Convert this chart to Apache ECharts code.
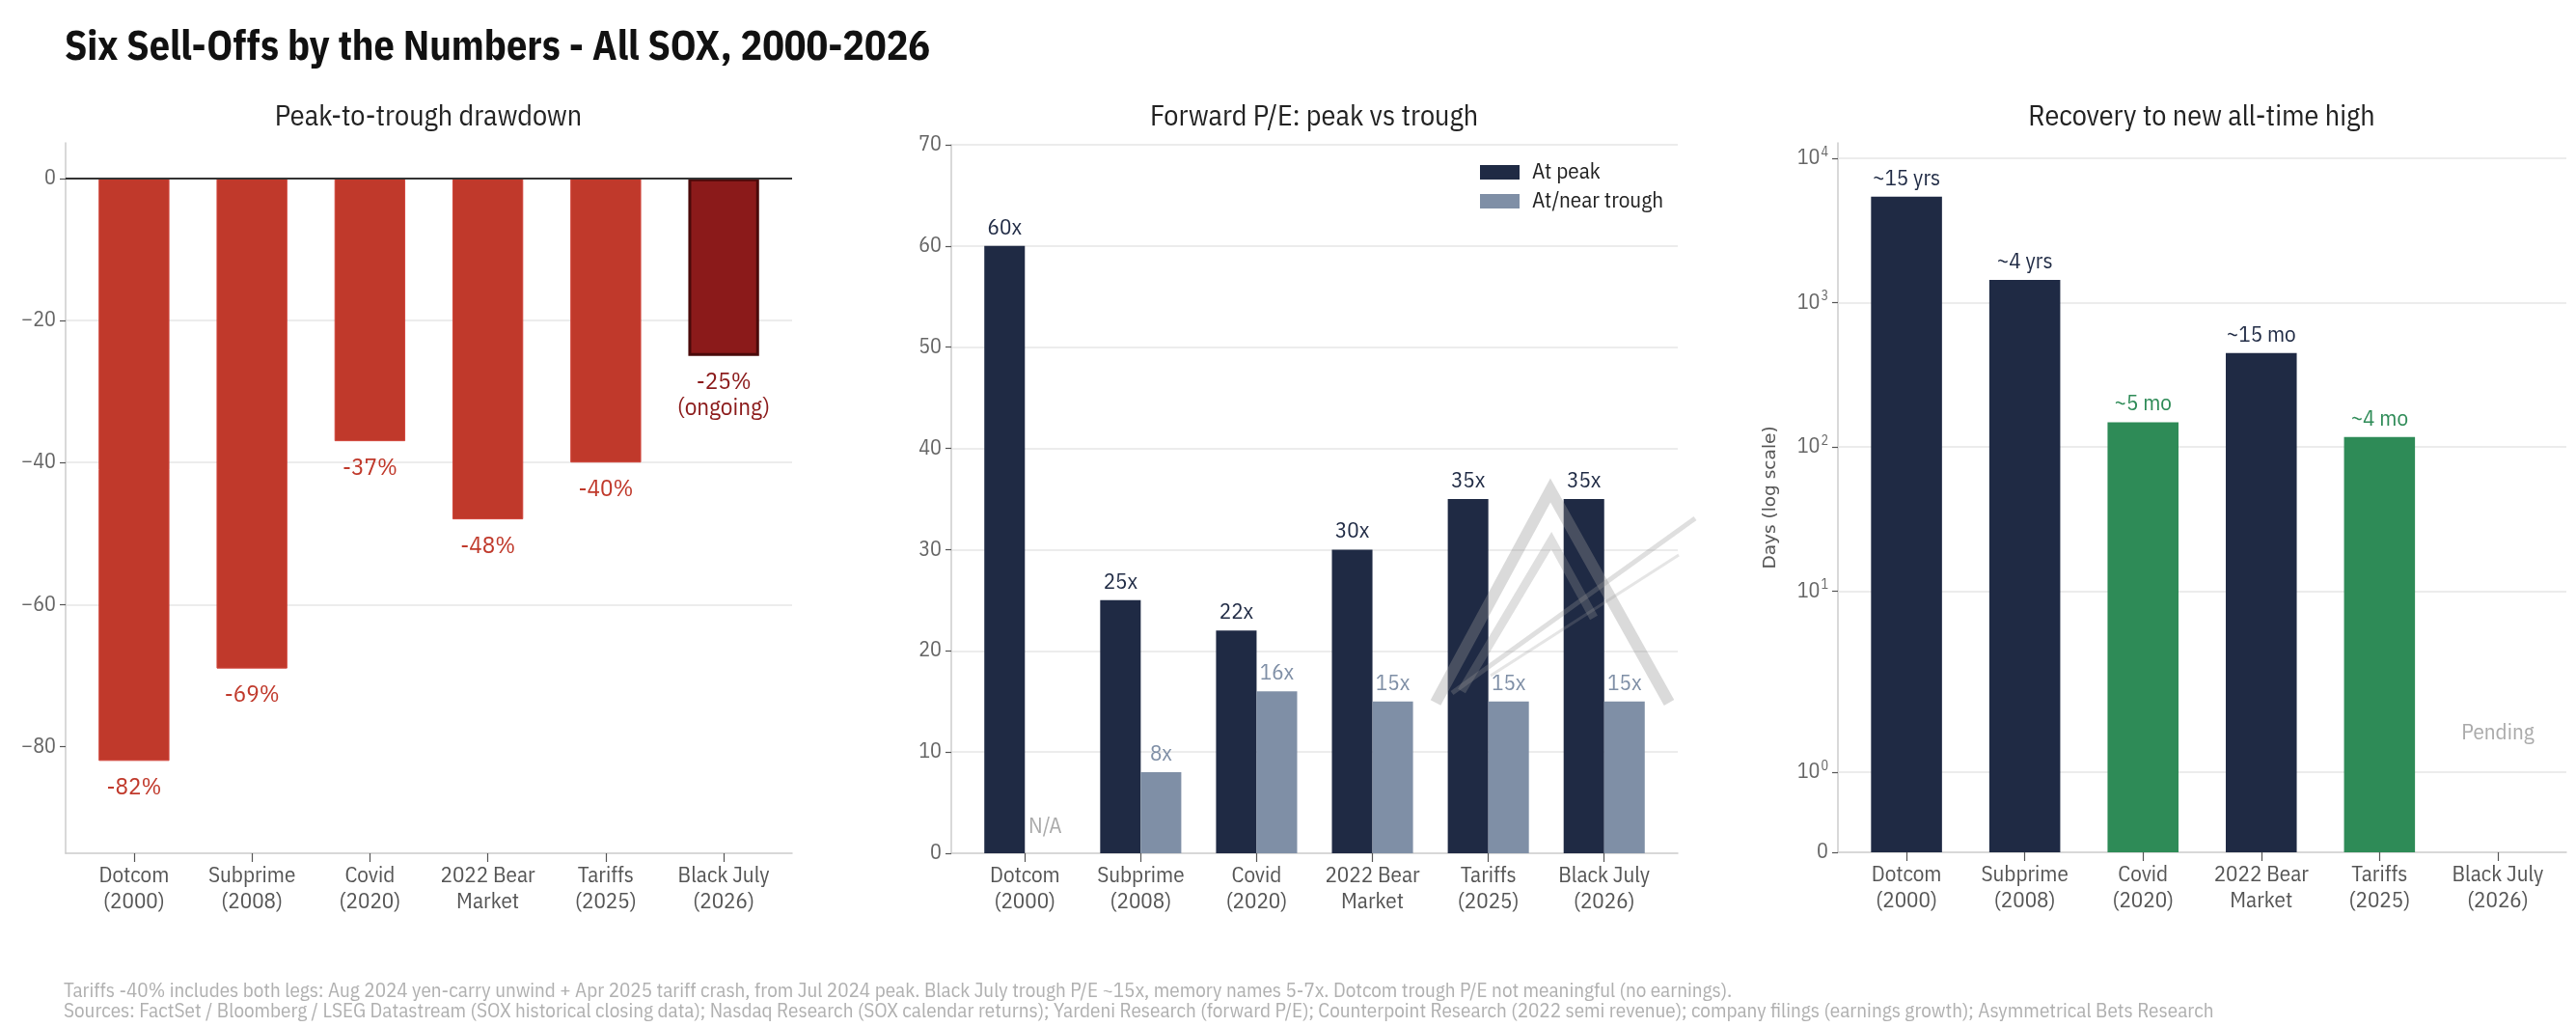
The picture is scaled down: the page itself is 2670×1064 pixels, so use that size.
<!DOCTYPE html>
<html>
<head>
  <meta charset="utf-8">
  <title>Six Sell-Offs by the Numbers</title>
  <script src="https://cdn.jsdelivr.net/npm/echarts@6/dist/echarts.min.js"></script>
  <style>
    html, body { margin: 0; padding: 0; background: #fff; }
    #main { width: 2670px; height: 1064px; }
  </style>
</head>
<body>
<div id="main"></div>

<script type="text/javascript">
// ---- data ----
var categories = ['Dotcom\n(2000)', 'Subprime\n(2008)', 'Covid\n(2020)', '2022 Bear\nMarket', 'Tariffs\n(2025)', 'Black July\n(2026)'];
var drawdown = [-82, -69, -37, -48, -40, -25];
var ongoing = [false, false, false, false, false, true];
var drawdownTicks = [0, -20, -40, -60, -80];

var pePeak = [60, 25, 22, 30, 35, 35];
var peTrough = [null, 8, 16, 15, 15, 15];

var recoveryDays = [5400, 1435, 148, 447, 117, null];
var recoveryText = ['~15 yrs', '~4 yrs', '~5 mo', '~15 mo', '~4 mo', 'Pending'];
var logTicks = [0, 1, 10, 100, 1000, 10000];

var FONT = "'IBM Plex Sans Condensed','Liberation Sans Narrow','Roboto Condensed',Roboto,sans-serif";
var RED = '#C0392B', DARKRED = '#8B1A1A', NAVY = '#1F2A44', SLATE = '#7F8FA6', GREEN = '#2E8B57';

// matplotlib symlog (linthresh 2, linscale 1), in decades
var LINTHRESH = 2, LINADJ = 1 / (1 - 1 / 10);
function symlog(d) {
  return d <= LINTHRESH ? d * LINADJ / LINTHRESH : LINADJ + Math.log10(d / LINTHRESH);
}
var idx = [0, 1, 2, 3, 4, 5];

function xAxisFor(grid, min, max) {
  return {
    type: 'value', gridIndex: grid, min: min, max: max,
    axisLine: { show: true, onZero: false, lineStyle: { color: '#cccccc', width: 1.5 } },
    axisTick: { show: true, customValues: idx, length: 9, lineStyle: { color: '#555', width: 1.2 } },
    axisLabel: {
      customValues: idx, margin: 10, color: '#555', fontSize: 23, lineHeight: 27, fontFamily: FONT,
      formatter: function (v) { return categories[Math.round(v)]; }
    },
    splitLine: { show: false }
  };
}
function yBase(grid) {
  return {
    gridIndex: grid,
    axisLine: { show: true, onZero: false, lineStyle: { color: '#cccccc', width: 1.5 } },
    axisTick: { show: true, length: 6, lineStyle: { color: '#555', width: 1.2 } },
    axisLabel: { color: '#666', fontSize: 22, fontFamily: FONT, margin: 10 },
    splitLine: { show: true, lineStyle: { color: '#e6e6e6', width: 1.5 } }
  };
}

var myChart = echarts.init(document.getElementById('main'));

var y0 = yBase(0);
y0.type = 'value'; y0.min = -95; y0.max = 5;
y0.axisTick.customValues = drawdownTicks;
y0.axisLabel.customValues = drawdownTicks;
y0.axisLabel.formatter = function (v) { return v < 0 ? '\u2212' + Math.abs(v) : String(v); };
y0.splitLine.showMinLine = false; y0.splitLine.showMaxLine = false;

var y1 = yBase(1);
y1.type = 'value'; y1.min = 0; y1.max = 70; y1.interval = 10;
y1.splitLine.showMinLine = false;

var logPos = logTicks.map(symlog);
var y2 = yBase(2);
y2.type = 'value'; y2.min = 0; y2.max = 4.916;
y2.splitLine = { show: false };
y2.axisTick.customValues = logPos;
y2.axisLabel.customValues = logPos;
y2.axisLabel.formatter = function (v) {
  var best = 0;
  logPos.forEach(function (p, i) { if (Math.abs(p - v) < Math.abs(logPos[best] - v)) best = i; });
  if (logTicks[best] === 0) return '{b|0}';
  return '{b|10}{s|' + Math.round(Math.log10(logTicks[best])) + '}';
};
y2.axisLabel.rich = {
  b: { fontSize: 22, color: '#666', fontFamily: FONT, lineHeight: 26 },
  s: { fontSize: 14, color: '#666', fontFamily: FONT, verticalAlign: 'top', lineHeight: 14, padding: [0, 0, 8, 1] }
};
y2.name = 'Days (log scale)';
y2.nameLocation = 'middle';
y2.nameGap = 60;
y2.nameTextStyle = { fontFamily: 'DejaVu Sans', fontSize: 18.5, color: '#555' };

var option = {
  backgroundColor: '#ffffff',
  animation: false,
  textStyle: { fontFamily: FONT },
  title: {
    text: 'Six Sell-Offs by the Numbers - All SOX, 2000-2026',
    left: 62, top: 24,
    textStyle: { fontSize: 42, fontWeight: 'bold', color: '#111', fontFamily: FONT }
  },
  legend: {
    data: ['At peak', 'At/near trough'],
    orient: 'vertical', left: 1529, top: 162,
    itemWidth: 41, itemHeight: 15, itemGap: 7,
    icon: 'rect',
    textStyle: { fontSize: 23, color: '#222', fontFamily: FONT, padding: [0, 0, 0, 8] }
  },
  grid: [
    { left: 68, top: 148, width: 753, height: 736 },
    { left: 986, top: 150, width: 753, height: 734 },
    { left: 1905, top: 148, width: 755, height: 735 }
  ],
  xAxis: [xAxisFor(0, -0.58, 5.58), xAxisFor(1, -0.635, 5.635), xAxisFor(2, -0.58, 5.58)],
  yAxis: [y0, y1, y2],
  graphic: [
    { type: 'text', x: 444, y: 122, style: { text: 'Peak-to-trough drawdown', font: '30px ' + FONT, fill: '#222', textAlign: 'center', textVerticalAlign: 'middle' } },
    { type: 'text', x: 1362, y: 122, style: { text: 'Forward P/E: peak vs trough', font: '30px ' + FONT, fill: '#222', textAlign: 'center', textVerticalAlign: 'middle' } },
    { type: 'text', x: 2282, y: 122, style: { text: 'Recovery to new all-time high', font: '30px ' + FONT, fill: '#222', textAlign: 'center', textVerticalAlign: 'middle' } },
    { type: 'text', x: 66, y: 1027, style: { text: 'Tariffs -40% includes both legs: Aug 2024 yen-carry unwind + Apr 2025 tariff crash, from Jul 2024 peak. Black July trough P/E ~15x, memory names 5-7x. Dotcom trough P/E not meaningful (no earnings).', font: '21px ' + FONT, fill: '#b0b0b0', textVerticalAlign: 'middle' } },
    { type: 'text', x: 66, y: 1048, style: { text: 'Sources: FactSet / Bloomberg / LSEG Datastream (SOX historical closing data); Nasdaq Research (SOX calendar returns); Yardeni Research (forward P/E); Counterpoint Research (2022 semi revenue); company filings (earnings growth); Asymmetrical Bets Research', font: '21px ' + FONT, fill: '#b0b0b0', textVerticalAlign: 'middle' } },
    // faint logo watermark
    { type: 'polyline', z: 100, shape: { points: [[1488, 728], [1607, 508], [1730, 728]] }, style: { stroke: 'rgba(150,150,150,0.35)', lineWidth: 12, fill: null, lineJoin: 'miter' } },
    { type: 'polyline', z: 100, shape: { points: [[1515, 716], [1608, 560], [1652, 640]] }, style: { stroke: 'rgba(150,150,150,0.3)', lineWidth: 9, fill: null } },
    { type: 'polyline', z: 100, shape: { points: [[1505, 718], [1757, 537]] }, style: { stroke: 'rgba(150,150,150,0.3)', lineWidth: 5, fill: null } },
    { type: 'polyline', z: 100, shape: { points: [[1545, 700], [1740, 575]] }, style: { stroke: 'rgba(150,150,150,0.25)', lineWidth: 3, fill: null } }
  ],
  series: [
    {
      type: 'bar', xAxisIndex: 0, yAxisIndex: 0, barWidth: '60%',
      data: drawdown.map(function (v, i) {
        var item = { value: [i, v], itemStyle: { color: RED, borderColor: '#d0443a', borderWidth: 1 } };
        if (ongoing[i]) {
          item.itemStyle = { color: DARKRED, borderColor: '#4A0A0A', borderWidth: 3 };
          item.label = { color: DARKRED };
        }
        return item;
      }),
      label: {
        show: true, position: 'bottom', distance: 14, fontSize: 25, lineHeight: 27, color: RED, fontFamily: FONT,
        formatter: function (p) {
          return p.value[1] + '%' + (ongoing[p.dataIndex] ? '\n(ongoing)' : '');
        }
      },
      markLine: {
        silent: true, symbol: 'none', label: { show: false },
        lineStyle: { color: '#333', width: 2, type: 'solid' },
        data: [{ yAxis: 0 }]
      }
    },
    {
      name: 'At peak', type: 'bar', xAxisIndex: 1, yAxisIndex: 1, barWidth: '35%', barGap: '0%',
      itemStyle: { color: NAVY },
      data: pePeak.map(function (v, i) { return [i, v]; }),
      label: { show: true, position: 'top', distance: 7, fontSize: 23, color: NAVY, fontFamily: FONT, formatter: function (p) { return p.value[1] + 'x'; } }
    },
    {
      name: 'At/near trough', type: 'bar', xAxisIndex: 1, yAxisIndex: 1, barWidth: '35%', barGap: '0%',
      itemStyle: { color: SLATE },
      data: peTrough.map(function (v, i) {
        if (v == null) return { value: [i, 0], label: { formatter: 'N/A', color: '#aaaaaa', distance: 16 } };
        return [i, v];
      }),
      label: { show: true, position: 'top', distance: 7, fontSize: 23, color: SLATE, fontFamily: FONT, formatter: function (p) { return p.value[1] + 'x'; } }
    },
    {
      type: 'bar', xAxisIndex: 2, yAxisIndex: 2, barWidth: '60%',
      data: recoveryDays.map(function (d, i) {
        if (d == null) {
          return { value: [i, 0], itemStyle: { color: 'transparent' }, label: { color: '#aaaaaa', distance: 112 } };
        }
        var c = d < 365 ? GREEN : NAVY;
        return { value: [i, symlog(d)], itemStyle: { color: c }, label: { color: c } };
      }),
      label: {
        show: true, position: 'top', distance: 7, fontSize: 23, fontFamily: FONT,
        formatter: function (p) { return recoveryText[p.dataIndex]; }
      },
      markLine: {
        silent: true, symbol: 'none', z: 1, label: { show: false },
        lineStyle: { color: '#e6e6e6', width: 1.5, type: 'solid' },
        data: logTicks.slice(1).map(function (t) { return { yAxis: symlog(t) }; })
      }
    }
  ]
};

myChart.setOption(option);
</script>
</body>
</html>
